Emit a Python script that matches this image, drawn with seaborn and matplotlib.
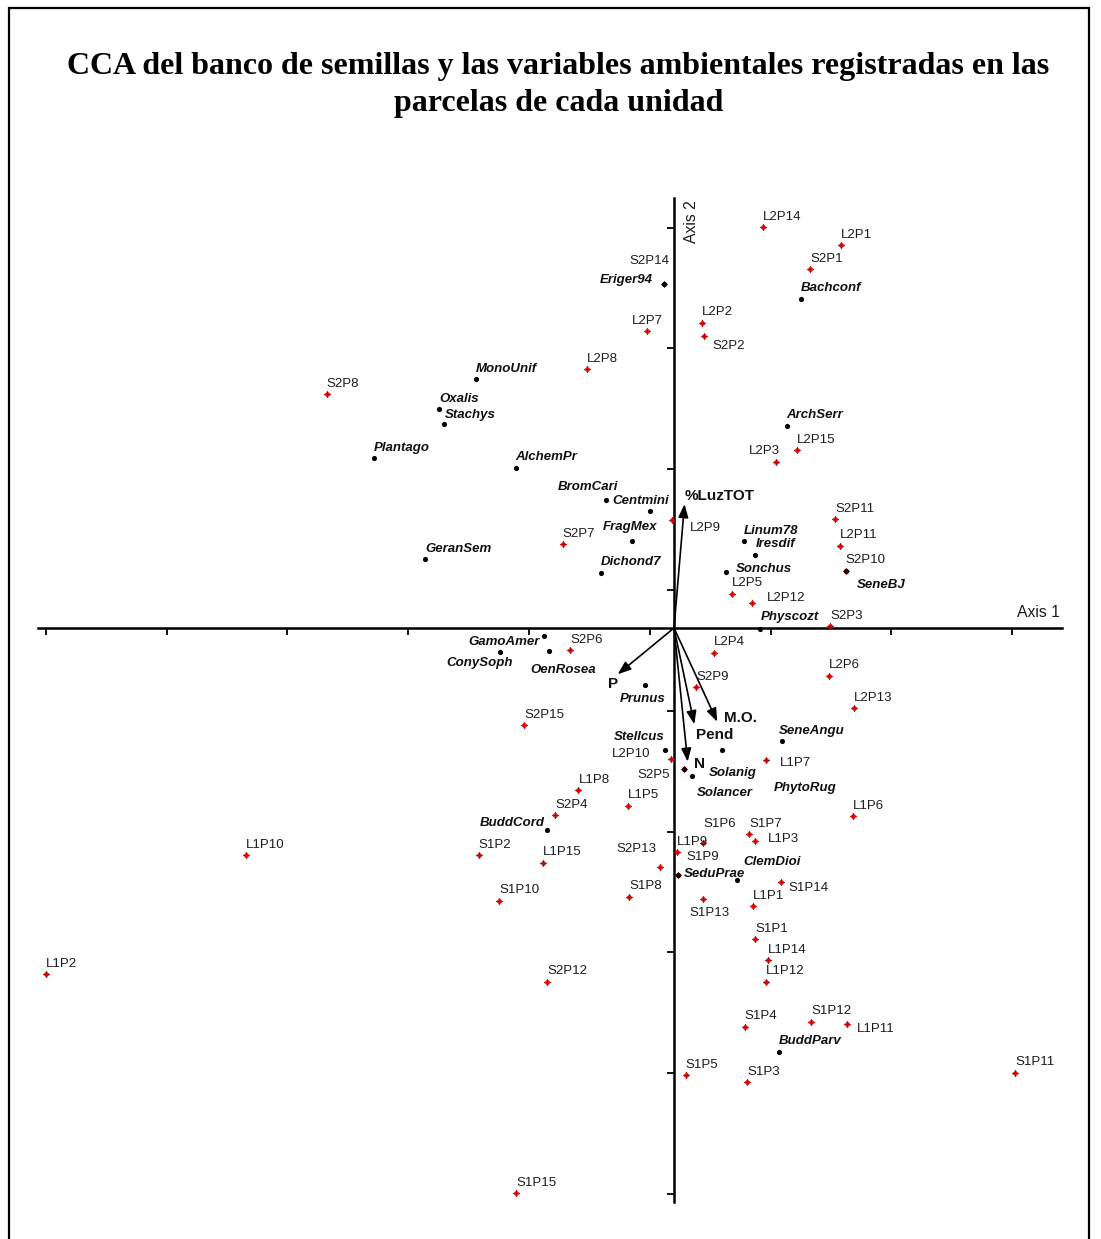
import matplotlib
matplotlib.use("Agg")
import matplotlib.pyplot as plt
import seaborn as sns
import pandas as pd
from matplotlib.patches import Rectangle

sns.set_theme(style="ticks")
plt.rcParams['font.family'] = ['Liberation Sans', 'DejaVu Sans']
plt.rcParams['text.color'] = 'black'

# ---------------- data ----------------
title_lines = ["CCA del banco de semillas y las variables ambientales registradas en las",
               "parcelas de cada unidad"]

site_names = ["L2P14", "L2P1", "S2P1", "S2P14", "L2P7", "L2P2", "S2P2", "S2P8", "L2P8",
              "L2P15", "L2P3", "S2P11", "L2P9", "L2P11", "S2P7", "S2P10", "L2P5", "L2P12",
              "S2P3", "S2P6", "L2P4", "L2P6", "S2P9", "L2P13", "S2P15", "L2P10", "L1P7",
              "S2P5", "L1P8", "L1P5", "S2P4", "L1P6", "S1P7", "L1P3", "S1P6", "L1P9",
              "S1P9", "S2P13", "L1P10", "S1P2", "L1P15", "S1P14", "S1P8", "S1P10", "S1P13",
              "L1P1", "S1P1", "L1P14", "L1P2", "L1P12", "S2P12", "S1P12", "L1P11", "S1P4",
              "S1P11", "S1P5", "S1P3", "S1P15"]
site_x = [0.734, 1.380, 1.126, -0.083, -0.221, 0.229, 0.248, -2.875, -0.718,
          1.021, 0.847, 1.333, -0.019, 1.377, -0.921, 1.421, 0.483, 0.648,
          1.291, -0.861, 0.334, 1.283, 0.185, 1.490, -1.240, -0.027, 0.759,
          0.083, -0.791, -0.378, -0.982, 1.482, 0.621, 0.671, 0.243, 0.022,
          0.031, -0.118, -3.543, -1.616, -1.084, 0.883, -0.373, -1.449, 0.243,
          0.656, 0.673, 0.776, -5.199, 0.759, -1.048, 1.138, 1.428, 0.584,
          2.826, 0.098, 0.607, -1.304]
site_y = [3.317, 3.171, 2.969, 2.850, 2.459, 2.527, 2.415, 1.937, 2.144,
          1.474, 1.372, 0.900, 0.894, 0.681, 0.693, 0.474, 0.284, 0.207,
          0.017, -0.185, -0.204, -0.395, -0.491, -0.665, -0.803, -1.087, -1.093,
          -1.167, -1.341, -1.471, -1.550, -1.560, -1.705, -1.767, -1.777, -1.857,
          -2.044, -1.978, -1.879, -1.879, -1.943, -2.105, -2.224, -2.257, -2.246,
          -2.301, -2.577, -2.751, -2.867, -2.928, -2.928, -3.259, -3.281, -3.300,
          -3.681, -3.700, -3.761, -4.680]

species_names = ["Eriger94", "Bachconf", "MonoUnif", "Oxalis", "Stachys", "ArchSerr",
                 "Plantago", "AlchemPr", "BromCari", "Centmini", "FragMex", "Linum78",
                 "Iresdif", "GeranSem", "SeneBJ", "Sonchus", "Dichond7", "Physcozt",
                 "GamoAmer", "OenRosea", "ConySoph", "Prunus", "SeneAngu", "Stellcus",
                 "PhytoRug", "Solanig", "Solancer", "BuddCord", "SeduPrae", "ClemDioi",
                 "BuddParv"]
species_x = [-0.083, 1.049, -1.639, -1.945, -1.904, 0.933,
             -2.483, -1.310, -0.563, -0.199, -0.345, 0.579,
             0.673, -2.059, 1.421, 0.430, -0.604, 0.715,
             -1.074, -1.037, -1.440, -0.240, 0.892, -0.075,
             0.395, 0.083, 0.151, -1.048, 0.031, 0.519,
             0.868]
species_y = [2.850, 2.726, 2.059, 1.813, 1.686, 1.675,
             1.405, 1.327, 1.057, 0.971, 0.720, 0.718,
             0.607, 0.571, 0.474, 0.466, 0.458, -0.008,
             -0.064, -0.193, -0.201, -0.472, -0.935, -1.010,
             -1.010, -1.167, -1.225, -1.672, -2.045, -2.089,
             -3.507]

vector_names = ["%LuzTOT", "P", "M.O.", "Pend", "N"]
vector_x = [0.087, -0.466, 0.358, 0.168, 0.113]
vector_y = [1.026, -0.383, -0.776, -0.797, -1.107]

x_ticks = [-5.2, -4.2, -3.2, -2.2, -1.2, -0.2, 0.8, 1.8, 2.8]
y_ticks = [-4.685, -3.685, -2.685, -1.685, -0.685, 0.315, 1.315, 2.315, 3.315]

# label placement (pixel offsets from the point: dx, dy up)
site_default_offset = (0, 7.3)
site_offsets = {"S2P14": (-35, 20), "L2P7": (-15, 6.5), "S2P2": (8, -13), "L2P3": (-27, 7.8),
                "L2P9": (18, -10.5), "L2P12": (15, 1.5), "L2P10": (-59, 2), "L1P7": (14, -5.5),
                "S2P5": (-47, -9.5), "L1P3": (13, -0.3), "S1P6": (0, 15.5), "S1P9": (9, 14.5),
                "S2P13": (-43, 15), "S1P14": (8, -9), "S1P13": (-14, -17), "L1P11": (10.5, -7.5)}
species_default_offset = (0, 7.3)
species_offsets = {"Eriger94": (-64, 1.2), "BromCari": (-48, 10.8), "Centmini": (-38, 7.2),
                   "FragMex": (-30, 10.8), "SeneBJ": (11, -16.8), "Sonchus": (10, 0.2),
                   "Physcozt": (0, 8.5), "GamoAmer": (-76, -8.8), "OenRosea": (-18, -22),
                   "ConySoph": (-54, -14), "Prunus": (-25, -16.5), "SeneAngu": (-3, 6.5),
                   "Stellcus": (-51, 9.8), "PhytoRug": (52, -41), "Solanig": (25, -7.2),
                   "Solancer": (5, -20.5), "BuddCord": (-68, 3.8), "SeduPrae": (6, -1.8),
                   "ClemDioi": (7, 15.8), "Stachys": (1, 6.8)}
vector_offsets = {"%LuzTOT": (0.5, 4.5), "P": (-10, -14.2), "M.O.": (7, -0.5),
                  "Pend": (1.4, -15.2), "N": (6, -6.5)}

sites = pd.DataFrame({"name": site_names, "x": site_x, "y": site_y})
species = pd.DataFrame({"name": species_names, "x": species_x, "y": species_y})

# ---------------- figure ----------------
W, H = 1101, 1239
fig = plt.figure(figsize=(W / 100, H / 100), dpi=100)
fig.patch.set_facecolor("white")
ax = fig.add_axes([38 / W, 1 - 1202 / H, 1024 / W, 1004 / H])
ax.set_facecolor("white")
ax.set_xlim(-636 / 120.8, 388 / 120.8)
ax.set_ylim(-574 / 120.8, 430 / 120.8)

for s in ["top", "right"]:
    ax.spines[s].set_visible(False)
ax.spines["left"].set_position(("data", 0))
ax.spines["bottom"].set_position(("data", 0))
for s in ["left", "bottom"]:
    ax.spines[s].set_linewidth(1.8)
    ax.spines[s].set_color("black")
ax.set_xticks(x_ticks)
ax.set_yticks(y_ticks)
ax.tick_params(axis="both", direction="out", length=5, width=1.3, color="black",
               labelbottom=False, labelleft=False, bottom=True, left=True)

sns.scatterplot(data=sites, x="x", y="y", ax=ax, marker=(4, 1, 0), s=24,
                color="#d40000", edgecolor="#d40000", linewidth=0.4, zorder=3, legend=False)
sns.scatterplot(data=species, x="x", y="y", ax=ax, marker="o", s=14,
                color="black", edgecolor="black", linewidth=0, zorder=4, legend=False)
ax.set_xlabel("")
ax.set_ylabel("")

# arrows
for name, vx, vy in zip(vector_names, vector_x, vector_y):
    ax.annotate("", xy=(vx, vy), xytext=(0, 0),
                arrowprops=dict(arrowstyle="-|>,head_length=0.8,head_width=0.3",
                                lw=1.2, color="black", shrinkA=0, shrinkB=0,
                                mutation_scale=10), zorder=5)
    dx, dy = vector_offsets[name]
    ax.annotate(name, xy=(vx, vy), xytext=(dx, dy), textcoords="offset pixels",
                ha="left", va="baseline", fontsize=11, fontweight="bold",
                color="#111111", zorder=6)

for name, x, y in zip(site_names, site_x, site_y):
    dx, dy = site_offsets.get(name, site_default_offset)
    ax.annotate(name, xy=(x, y), xytext=(dx, dy), textcoords="offset pixels",
                ha="left", va="baseline", fontsize=9.5, color="#1c1c1c", zorder=6)

for name, x, y in zip(species_names, species_x, species_y):
    dx, dy = species_offsets.get(name, species_default_offset)
    ax.annotate(name, xy=(x, y), xytext=(dx, dy), textcoords="offset pixels",
                ha="left", va="baseline", fontsize=9.5, fontweight="bold",
                fontstyle="italic", color="#111111", zorder=6)

# axis names
ax.text(343 / 120.8, 11.5 / 120.8, "Axis 1", ha="left", va="baseline",
        fontsize=11.3, color="#1c1c1c")
ax.text(18 / 120.8, 406 / 120.8, "Axis 2", ha="center", va="center", rotation=90,
        fontsize=11.3, color="#1c1c1c")

# title
for line, base in zip(title_lines, [74, 111]):
    fig.text(558.5 / W, 1 - base / H, line, ha="center", va="baseline",
             fontsize=23, fontweight="bold", color="black",
             family=["Liberation Serif", "DejaVu Serif"])

# frame around the figure
fig.add_artist(Rectangle((9 / W, -0.05), (1089 - 9) / W, 1.05 - 8 / H,
                         transform=fig.transFigure, fill=False, lw=1.6,
                         edgecolor="black"))

fig.savefig("out.png", dpi=100, facecolor="white")
